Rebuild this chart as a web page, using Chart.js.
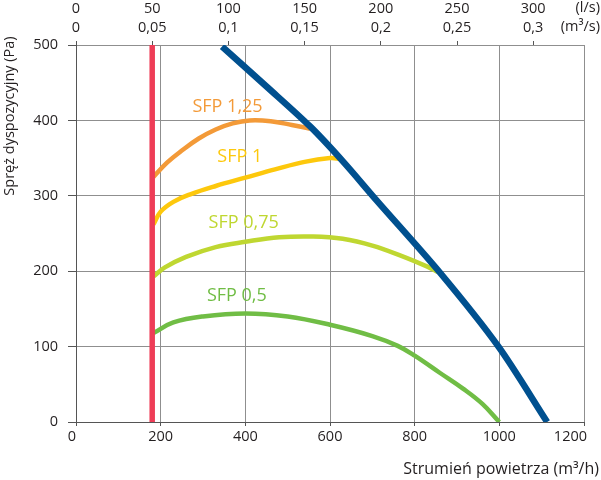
<!DOCTYPE html>
<html><head><meta charset="utf-8">
<script src="https://cdn.jsdelivr.net/npm/chart.js@4/dist/chart.umd.min.js"></script>
<style>html,body{margin:0;padding:0;background:#fff}canvas{display:block}</style>
</head><body>
<canvas id="c" width="601" height="480"></canvas>
<script>
// ---- data ----
const flowTicks = [0, 200, 400, 600, 800, 1000, 1200];          // m3/h
const pressureTicks = [0, 100, 200, 300, 400, 500];             // Pa
const lpsTicks = [0, 50, 100, 150, 200, 250, 300];              // l/s
const m3sTickLabels = ['0', '0,05', '0,1', '0,15', '0,2', '0,25', '0,3'];

const minFlowX = [180, 180];
const minFlowY = [0, 500];

const fanX = [345, 450, 553, 630, 710, 860, 998, 1113];
const fanY = [498, 445, 392, 346, 294, 198, 100, 0];

const sfp125X = [183, 215, 250, 290, 330, 370, 410, 460, 510, 553];
const sfp125Y = [325, 344, 360, 376, 388, 396, 400, 399, 394, 389];

const sfp1X = [183, 200, 230, 270, 330, 400, 470, 540, 600, 625];
const sfp1Y = [262, 279, 292, 302, 313, 324, 335, 345, 350, 349];

const sfp075X = [183, 210, 260, 330, 400, 480, 560, 630, 700, 770, 830, 855];
const sfp075Y = [193, 205, 219, 232, 239, 245, 246, 243, 234, 220, 206, 199];

const sfp05X = [183, 230, 300, 400, 500, 600, 700, 760, 800, 860, 915, 960, 1000];
const sfp05Y = [118, 132, 140, 144, 140, 129, 114, 101, 88, 65, 44, 24, 0];

const sfpLabels = ['SFP 1,25', 'SFP 1', 'SFP 0,75', 'SFP 0,5'];
const sfpLabelX = [358, 387, 396, 380];
const sfpLabelY = [418, 351, 264, 167];

const xTitle = 'Strumień powietrza (m³/h)';
const yTitle = 'Spręż dyspozycyjny (Pa)';
const unitLps = '(l/s)';
const unitM3s = '(m³/s)';

// ---- styles ----
const FONT = '"Open Sans", "Noto Sans", sans-serif';
const TXT = '#231f20';
const GRID = '#8f8f8f';
const AXIS = '#555555';
const sfpColors = ['#f39a38', '#fdc80c', '#bfd731', '#70bd45'];

const pts = (xs, ys) => xs.map((x, i) => ({x, y: ys[i]}));

const lineDs = (data, color, width, tension) => ({
  data, borderColor: color, borderWidth: width, pointRadius: 0,
  fill: false, tension: tension, borderCapStyle: 'butt',
  borderJoinStyle: 'round'
});

const labelsPlugin = {
  id: 'extraText',
  afterDraw(chart) {
    const ctx = chart.ctx;
    const xs = chart.scales.x, ys = chart.scales.y;
    ctx.save();
    // SFP labels
    ctx.font = '18px ' + FONT;
    ctx.textAlign = 'center';
    ctx.textBaseline = 'middle';
    sfpLabels.forEach((t, i) => {
      ctx.fillStyle = sfpColors[i];
      ctx.fillText(t, xs.getPixelForValue(sfpLabelX[i]), ys.getPixelForValue(sfpLabelY[i]));
    });
    // bottom tick labels (edge labels pulled inward as in the original)
    ctx.fillStyle = TXT;
    ctx.font = '14.5px ' + FONT;
    flowTicks.forEach((v, i) => {
      const px = xs.getPixelForValue(v);
      if (i === 0) { ctx.textAlign = 'right'; ctx.fillText(String(v), px, 437); }
      else if (i === flowTicks.length - 1) { ctx.textAlign = 'right'; ctx.fillText(String(v), px + 3, 437); }
      else { ctx.textAlign = 'center'; ctx.fillText(String(v), px, 437); }
    });
    // axis titles
    ctx.font = '16px ' + FONT;
    ctx.textAlign = 'right';
    ctx.fillText(xTitle, 599, 469);
    ctx.save();
    ctx.translate(10, 116);
    ctx.rotate(-Math.PI / 2);
    ctx.textAlign = 'center';
    ctx.font = '14.5px ' + FONT;
    ctx.fillText(yTitle, 0, 0);
    ctx.restore();
    // unit labels for top axis
    ctx.font = '14.5px ' + FONT;
    ctx.textAlign = 'right';
    ctx.fillText(unitLps, 600, 8);
    ctx.fillText(unitM3s, 600, 27);
    ctx.restore();
  }
};

new Chart(document.getElementById('c'), {
  type: 'line',
  data: {
    datasets: [
      lineDs(pts(fanX, fanY), '#00508f', 6.5, 0.3),
      lineDs(pts(minFlowX, minFlowY), '#ee3d57', 5.5, 0),
      lineDs(pts(sfp125X, sfp125Y), sfpColors[0], 4.5, 0.4),
      lineDs(pts(sfp1X, sfp1Y), sfpColors[1], 4.5, 0.4),
      lineDs(pts(sfp075X, sfp075Y), sfpColors[2], 4.5, 0.4),
      lineDs(pts(sfp05X, sfp05Y), sfpColors[3], 4.5, 0.4)
    ]
  },
  options: {
    responsive: false,
    animation: false,
    events: [],
    layout: {padding: {left: 0, right: 17, top: 0, bottom: 0}},
    plugins: {legend: {display: false}, tooltip: {enabled: false}},
    scales: {
      x: {
        type: 'linear', position: 'bottom', min: 0, max: 1200,
        afterBuildTicks: s => { s.ticks = flowTicks.map(v => ({value: v})); },
        afterFit: s => { s.height = 58; },
        ticks: {display: false},
        grid: {color: GRID, lineWidth: 1, tickLength: 4, tickColor: AXIS},
        border: {color: AXIS, width: 1}
      },
      xTop: {
        type: 'linear', position: 'top', min: 0, max: 1200 / 3.6,
        afterBuildTicks: s => { s.ticks = lpsTicks.map(v => ({value: v})); },
        afterFit: s => { s.height = 45; },
        ticks: {autoSkip: false, maxRotation: 0, padding: 3, color: TXT,
                font: {family: FONT, size: 14.5, lineHeight: 1.35},
                callback: (v, i) => [String(lpsTicks[i]), m3sTickLabels[i]]},
        grid: {drawOnChartArea: false, tickLength: 4, color: AXIS},
        border: {color: GRID, width: 1}
      },
      y: {
        type: 'linear', position: 'left', min: 0, max: 500,
        afterBuildTicks: s => { s.ticks = pressureTicks.map(v => ({value: v})); },
        afterFit: s => { s.width = 76; },
        ticks: {padding: 10, color: TXT, font: {family: FONT, size: 14.5},
                callback: v => String(v)},
        grid: {color: GRID, lineWidth: 1, tickLength: 8, tickColor: AXIS},
        border: {color: AXIS, width: 1}
      }
    }
  },
  plugins: [labelsPlugin]
});
</script>
</body></html>
